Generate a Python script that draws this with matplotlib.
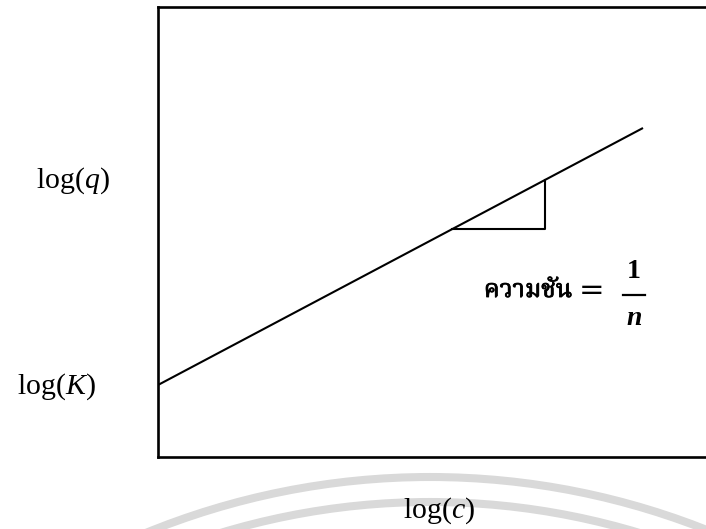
import matplotlib
matplotlib.use("Agg")
import matplotlib.pyplot as plt
from matplotlib import font_manager
from matplotlib import patheffects
from matplotlib.ft2font import FT2Font
from matplotlib.patches import Circle
from matplotlib.lines import Line2D

# Freundlich isotherm, linear form: log(q) = log(K) + (1/n) log(c)
log_c = [0.0, 4.85]
log_q = [0.72, 3.29]
log_K = 0.72

# slope triangle drawn under the line
tri_c = [2.94, 3.87, 3.87]
tri_q = [2.28, 2.28, 2.77]

x_label = r"$\mathrm{log}(c)$"
y_label = r"$\mathrm{log}(q)$"
k_label = r"$\mathrm{log}(K)$"
slope_word = "ความชัน"

plt.rcParams["mathtext.fontset"] = "custom"
plt.rcParams["mathtext.rm"] = "Liberation Serif"
plt.rcParams["mathtext.it"] = "Liberation Serif:italic"
plt.rcParams["mathtext.bf"] = "Liberation Serif:bold"

# looped / serif Thai faces first, anything that has the glyphs after that
preferred = ["Noto Serif Thai", "Noto Sans Thai Looped", "Norasi", "Kinnari",
             "Laksaman", "TH Sarabun New", "Loma", "Garuda", "Waree"]


def thai_family(sample):
    found = []
    for fe in font_manager.fontManager.ttflist:
        try:
            ft = FT2Font(fe.fname)
        except Exception:
            continue
        if all(ft.get_char_index(ord(ch)) for ch in sample):
            found.append(fe.name)
    for name in preferred:
        if name in found:
            return name
    return found[0] if found else None


thai = thai_family(slope_word)
thai_fam = [thai, "DejaVu Sans"] if thai else ["DejaVu Sans"]

fig = plt.figure(figsize=(7.06, 5.29), dpi=100)
ax = fig.add_axes([158 / 706, 72 / 529, 548 / 706, 450 / 529])
ax.set_xlim(0, 5.48)
ax.set_ylim(0, 4.5)
ax.patch.set_alpha(0)

ax.plot(log_c, log_q, color="black", lw=1.5, solid_capstyle="butt")
ax.plot(tri_c, tri_q, color="black", lw=1.5)

for s in ("left", "bottom", "top"):
    ax.spines[s].set_linewidth(1.9)
ax.spines["right"].set_visible(False)
ax.set_xticks([])
ax.set_yticks([])

tsize = 21.5
fig.text(73 / 706, 1 - 188 / 529, y_label, fontsize=tsize, ha="center", va="baseline")
fig.text(56 / 706, 1 - 394 / 529, k_label, fontsize=tsize, ha="center", va="baseline")
fig.text(439 / 706, 1 - 518 / 529, x_label, fontsize=tsize, ha="center", va="baseline")

# slope annotation: ความชัน = 1/n
heavy = [patheffects.withStroke(linewidth=0.6, foreground="black")]
fig.text(528 / 706, 1 - 297 / 529, slope_word, fontsize=18, family=thai_fam,
         fontweight="bold", ha="center", va="baseline", path_effects=heavy)
fig.text(592 / 706, 1 - 290 / 529, "=", fontsize=22, family="DejaVu Sans",
         ha="center", va="center")
fig.text(634 / 706, 1 - 278 / 529, "1", fontsize=20, family="Liberation Serif",
         fontweight="bold", ha="center", va="baseline")
fig.text(634 / 706, 1 - 325 / 529, "n", fontsize=20, family="Liberation Serif",
         fontweight="bold", style="italic", ha="center", va="baseline")
fig.add_artist(Line2D([623 / 706, 645 / 706], [1 - 295 / 529, 1 - 295 / 529],
                      color="black", lw=1.6, transform=fig.transFigure))

# faint watermark rings along the bottom edge
for r in (7.50, 7.25):
    fig.add_artist(Circle((4.30, -6.98), r, transform=fig.dpi_scale_trans,
                          fill=False, edgecolor="#d9d9d9", lw=5.8, zorder=0))

fig.savefig("out.png", dpi=100, facecolor="white")
